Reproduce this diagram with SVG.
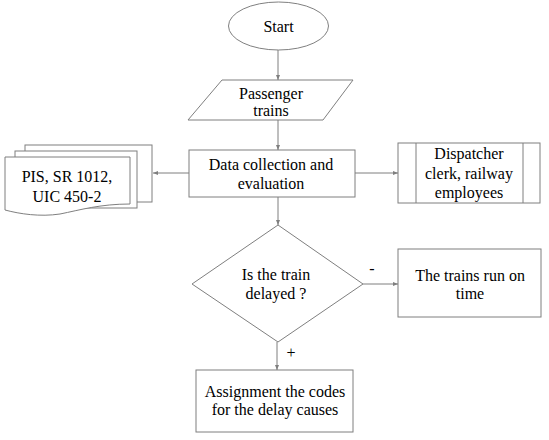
<svg xmlns="http://www.w3.org/2000/svg" width="549" height="440" viewBox="0 0 549 440">
<defs>
<marker id="ah" viewBox="0 0 10 10" refX="10" refY="5" markerWidth="5" markerHeight="5" orient="auto" markerUnits="userSpaceOnUse">
<path d="M0,1 L10,5 L0,9 z" fill="#7f7f7f"/>
</marker>
</defs>
<rect width="549" height="440" fill="#fff"/>
<g id="connectors" fill="none" stroke="#7f7f7f" stroke-width="1">
<line marker-end="url(#ah)" x1="278" y1="50" x2="278" y2="80"/>
<line marker-end="url(#ah)" x1="278" y1="120" x2="278" y2="150"/>
<line marker-end="url(#ah)" x1="189" y1="173" x2="153" y2="173"/>
<line marker-end="url(#ah)" x1="355" y1="173" x2="398" y2="173"/>
<line marker-end="url(#ah)" x1="278" y1="197" x2="278" y2="225"/>
<line marker-end="url(#ah)" x1="363" y1="284" x2="398" y2="284"/>
<line marker-end="url(#ah)" x1="277" y1="342" x2="277" y2="370"/>
</g>
<g id="labels" fill="#000" font-size="16" text-anchor="middle">
<text x="372" y="274" font-family="Liberation Serif, serif">-</text>
<text x="291" y="358" font-family="Liberation Serif, serif">+</text>
</g>
<g id="start">
<ellipse fill="#fff" stroke="#7f7f7f" cx="278.5" cy="26" rx="50" ry="24"/>
<text x="278.5" y="32" font-size="16" text-anchor="middle" font-family="Liberation Serif, serif">Start</text>
</g>
<g id="passenger">
<polygon fill="#fff" stroke="#7f7f7f" points="222,80 353,80 323,120 188,120"/>
<text x="271" y="99" font-size="16" text-anchor="middle" font-family="Liberation Serif, serif">Passenger</text>
<text x="271" y="116" font-size="16" text-anchor="middle" font-family="Liberation Serif, serif">trains</text>
</g>
<g id="data">
<rect fill="#fff" stroke="#7f7f7f" x="189" y="150" width="166" height="47"/>
<text x="271" y="170" font-size="16" text-anchor="middle" font-family="Liberation Serif, serif">Data collection and</text>
<text x="271" y="189" font-size="16" text-anchor="middle" font-family="Liberation Serif, serif">evaluation</text>
</g>
<g id="docs">
<rect fill="#fff" stroke="#7f7f7f" x="25" y="145" width="127" height="57"/>
<rect fill="#fff" stroke="#7f7f7f" x="15" y="151" width="122" height="57"/>
<path fill="#fff" stroke="#7f7f7f" d="M5,157 L130,157 L130,204 C100,204 80,210 60,214 C40,217 20,214 5,210 Z"/>
<text x="67" y="182" font-size="16" text-anchor="middle" font-family="Liberation Serif, serif">PIS, SR 1012,</text>
<text x="67" y="202" font-size="16" text-anchor="middle" font-family="Liberation Serif, serif">UIC 450-2</text>
</g>
<g id="dispatcher">
<rect fill="#fff" stroke="#7f7f7f" x="398" y="143" width="142" height="60"/>
<line stroke="#7f7f7f" x1="416" y1="143" x2="416" y2="203"/>
<line stroke="#7f7f7f" x1="523" y1="143" x2="523" y2="203"/>
<text x="469" y="159" font-size="16" text-anchor="middle" font-family="Liberation Serif, serif">Dispatcher</text>
<text x="469" y="179" font-size="16" text-anchor="middle" font-family="Liberation Serif, serif">clerk, railway</text>
<text x="469" y="198" font-size="16" text-anchor="middle" font-family="Liberation Serif, serif">employees</text>
</g>
<g id="decision">
<polygon fill="#fff" stroke="#7f7f7f" points="278,225 363,284 278,342 192,284"/>
<text x="276" y="280" font-size="16" text-anchor="middle" font-family="Liberation Serif, serif">Is the train</text>
<text x="276" y="299" font-size="16" text-anchor="middle" font-family="Liberation Serif, serif">delayed ?</text>
</g>
<g id="ontime">
<rect fill="#fff" stroke="#7f7f7f" x="398" y="249" width="143" height="68"/>
<text x="470" y="281" font-size="16" text-anchor="middle" font-family="Liberation Serif, serif">The trains run on</text>
<text x="470" y="299" font-size="16" text-anchor="middle" font-family="Liberation Serif, serif">time</text>
</g>
<g id="assign">
<rect fill="#fff" stroke="#7f7f7f" x="196" y="370" width="157" height="62"/>
<text x="275" y="397" font-size="16" text-anchor="middle" font-family="Liberation Serif, serif">Assignment the codes</text>
<text x="275" y="415" font-size="16" text-anchor="middle" font-family="Liberation Serif, serif">for the delay causes</text>
</g>
</svg>
